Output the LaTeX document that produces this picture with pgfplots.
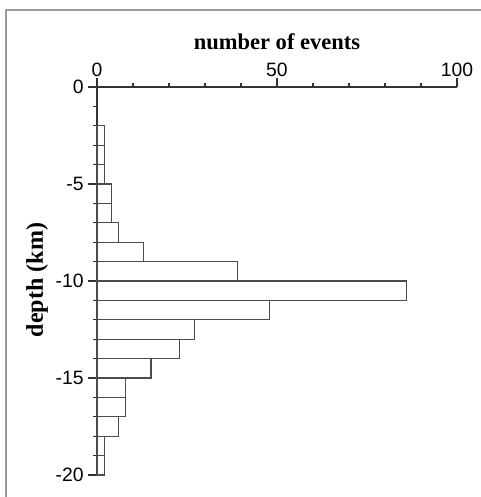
\documentclass[border=0pt]{standalone}
\usepackage{pgfplots}
\pgfplotsset{compat=1.18}
\usepackage{fontspec}
\setmainfont{Liberation Serif}
\setsansfont{Liberation Sans}
\begin{document}
\begin{tikzpicture}
\useasboundingbox (0,0) rectangle (360pt,372.75pt);
\draw[black!40, line width=1.2pt] (4.5pt,-2pt) -- (4.5pt,365.25pt) -- (362pt,365.25pt);
\begin{axis}[
  at={(72.75pt,307.5pt)}, anchor=north west,
  scale only axis, width=270pt, height=291pt,
  xmin=0, xmax=100, ymin=-20, ymax=0,
  axis x line=top, axis y line=left, axis line style={-, line width=0.9pt, black!80},
  xtick={0,50,100}, minor xtick={10,20,30,40,60,70,80,90},
  ytick={-20,-15,-10,-5,0}, yticklabels={-20,-15,-10,-5,0},
  minor ytick={-19,-18,-17,-16,-14,-13,-12,-11,-9,-8,-7,-6,-4,-3,-2,-1},
  xticklabels={0,50,100},
  tick align=outside, major tick length=6.5pt, minor tick length=3pt,
  tick style={line width=0.9pt, black!80},
  ticklabel style={font=\sffamily\fontsize{14.5}{16}\selectfont},
  xticklabel style={yshift=-2.5pt},
  xlabel={number of events},
  xlabel style={font=\bfseries\fontsize{16.9}{19}\selectfont, at={(axis description cs:0.5,1)}, anchor=center, yshift=33.75pt},
  clip=false,
]
\addplot[xbar, bar width=1, bar shift=0, draw=black!70, line width=0.9pt, fill=white] coordinates {
(2,-2.5) (2,-3.5) (2,-4.5) (4,-5.5) (4,-6.5) (6,-7.5) (13,-8.5) (39,-9.5)
(86,-10.5) (48,-11.5) (27,-12.5) (23,-13.5) (15,-14.5) (8,-15.5) (8,-16.5)
(6,-17.5) (2,-18.5) (2,-19.5)
};
\end{axis}
\node[rotate=90, font=\bfseries\fontsize{18}{20}\selectfont] at (27.75pt,162.75pt) {depth (km)};
\end{tikzpicture}
\end{document}
